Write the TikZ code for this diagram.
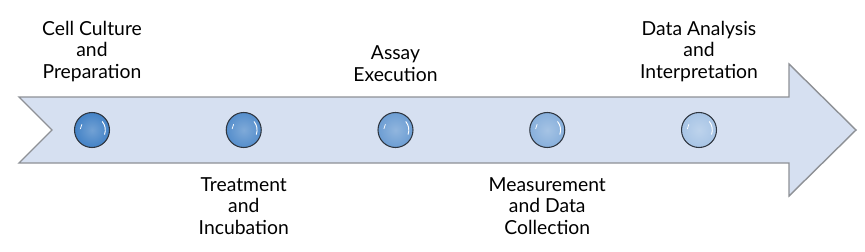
\documentclass[tikz,border=0pt]{standalone}
\usepackage{fontspec}
\setmainfont{Lato}
\definecolor{arrowfill}{HTML}{D6E0F1}
\definecolor{arrowline}{HTML}{8E9196}
\definecolor{balldark}{HTML}{4382C6}
\definecolor{balllight}{HTML}{B9D0EB}
\definecolor{ballrim}{HTML}{2F3640}
\begin{document}
\begin{tikzpicture}[x=0.03cm, y=-0.03cm,
    every node/.style={font=\fontsize{16.5}{18.5}\selectfont, align=center, inner sep=0pt},
    dot/.style={circle, draw=ballrim, line width=0.9pt, minimum size=1.05cm}]
            \useasboundingbox (0,0) rectangle (865,251);
            % timeline arrow
            \draw[arrowline, line width=1.2pt, fill=arrowfill, line join=miter]
                (19,97) -- (789,97) -- (789,64) -- (856,130) -- (789,196)
                -- (789,163) -- (19,163) -- (52,130) -- cycle;
            % stage markers
            \foreach \i/\pct in {1/100,2/85,3/65,4/42,5/15} {
                \node[dot, inner color=balldark!\pct!balllight!75!white,
                    outer color=balldark!\pct!balllight] (dot\i) at ({92+(\i-1)*151.75},130) {};
                \draw[white, line width=0.8pt] ([shift={(-20:0.4cm)}]dot\i.center) arc (-20:40:0.4cm);
                \draw[white, line width=0.6pt] ([shift={(150:0.35cm)}]dot\i.center) arc (150:175:0.35cm);
            }
            % stage labels
            \node[anchor=south] (lab1) at (92,82) {Cell Culture\\and\\Preparation};
            \node[anchor=north] (lab2) at (243.75,177) {Treatment\\and\\Incubation};
            \node[anchor=south] (lab3) at (395.5,82) {Assay\\Execution};
            \node[anchor=north] (lab4) at (547.25,177) {Measurement\\and Data\\Collection};
            \node[anchor=south] (lab5) at (699,82) {Data Analysis\\and\\Interpretation};
\end{tikzpicture}
\end{document}
